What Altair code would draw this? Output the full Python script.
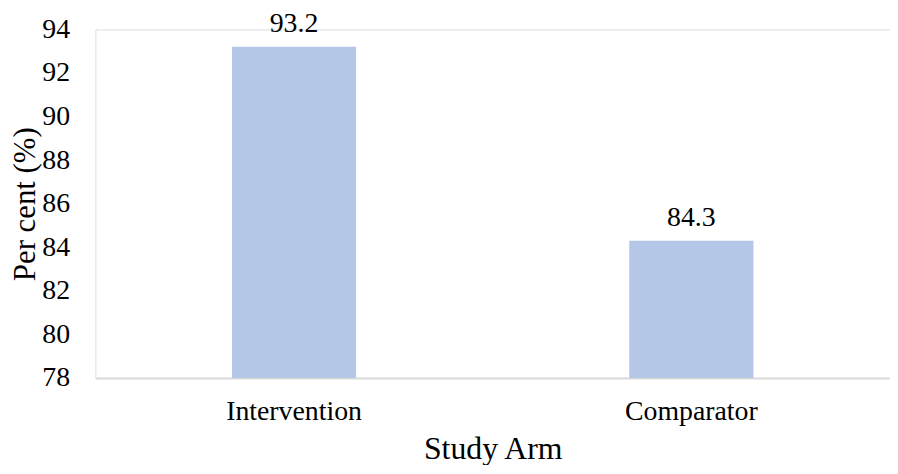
import altair as alt
import pandas as pd

arms = ["Intervention", "Comparator"]
percent = [93.2, 84.3]
labels = ["93.2", "84.3"]

df = pd.DataFrame({"arm": arms, "pct": percent, "label": labels})

FONT = "Liberation Serif, Times New Roman, serif"

x = alt.X("arm:N", sort=arms, title="Study Arm",
          scale=alt.Scale(paddingInner=0, paddingOuter=0),
          axis=alt.Axis(labelAngle=0, labelFont=FONT, labelFontSize=28, labelColor="#000000",
                        titleFont=FONT, titleFontSize=32, titleFontWeight="normal", titleColor="#000000",
                        ticks=False, domainColor="#d9d9d9", domainWidth=2, labelPadding=20, titlePadding=8))
y = alt.Y("pct:Q", title="Per cent (%)",
          scale=alt.Scale(domain=[78, 94], nice=False, zero=False, clamp=True),
          axis=alt.Axis(values=[78, 80, 82, 84, 86, 88, 90, 92, 94], grid=False, domain=False, ticks=False,
                        labelFont=FONT, labelFontSize=28, labelColor="#000000", labelPadding=26,
                        titleFont=FONT, titleFontSize=31, titleFontWeight="normal", titleColor="#000000",
                        titlePadding=0))

bars = alt.Chart(df).mark_bar(width=125, color="#B4C7E7").encode(x=x, y=y, y2=alt.datum(78))
text = alt.Chart(df).mark_text(font=FONT, fontSize=28, color="#000000", baseline="alphabetic", dy=-15).encode(
    x=alt.X("arm:N", sort=arms), y="pct:Q", text="label:N")

chart = (bars + text).properties(
    width=800, height=351,
    autosize=alt.AutoSizeParams(type="none"),
    padding={"left": 88, "top": 20, "right": 0, "bottom": 86},
).configure_view(stroke=None).configure(background="white")

chart.save("out.html", embed_options={"renderer": "svg", "actions": False})
